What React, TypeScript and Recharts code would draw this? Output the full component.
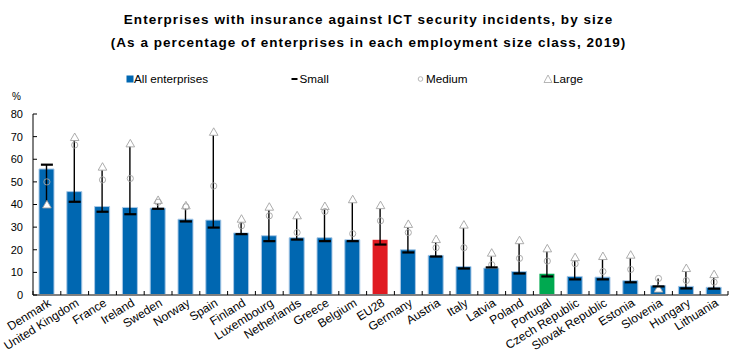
import React from 'react';
import { ComposedChart, Bar, Cell, Scatter, ErrorBar, XAxis, YAxis, Legend } from 'recharts';

const COUNTRIES = [
  'Denmark', 'United Kingdom', 'France', 'Ireland', 'Sweden', 'Norway', 'Spain', 'Finland',
  'Luxembourg', 'Netherlands', 'Greece', 'Belgium', 'EU28', 'Germany', 'Austria', 'Italy',
  'Latvia', 'Poland', 'Portugal', 'Czech Republic', 'Slovak Republic', 'Estonia', 'Slovenia',
  'Hungary', 'Lithuania',
];

const ALL_ENTERPRISES = [55.7, 45.7, 39.1, 38.7, 38.4, 33.5, 33.1, 27.4, 26.2, 25.3, 25.3, 24.4, 24.4, 20.0, 17.5, 12.6, 11.9, 10.4, 9.4, 8.2, 7.9, 6.3, 4.1, 3.8, 3.4];
const SMALL = [57.6, 41.2, 36.8, 35.7, 38.1, 32.5, 29.8, 26.9, 23.8, 24.5, 23.8, 23.8, 22.3, 18.8, 17.0, 11.7, 12.2, 9.5, 8.2, 6.9, 6.9, 5.6, 3.8, 2.9, 2.8];
const MEDIUM = [50.0, 66.3, 50.9, 51.5, 41.0, 39.0, 48.2, 30.6, 35.0, 27.6, 36.9, 27.1, 32.8, 27.6, 20.9, 20.9, 13.4, 16.2, 15.0, 13.8, 10.4, 11.3, 7.3, 6.4, 5.7];
const LARGE = [39.8, 69.6, 56.5, 66.8, 41.8, 39.4, 71.9, 33.5, 38.8, 35.0, 39.1, 42.1, 39.5, 31.2, 24.5, 30.9, 18.5, 24.0, 20.4, 16.5, 17.0, 17.6, 2.6, 11.7, 9.0];

const Y_TICKS = [0, 10, 20, 30, 40, 50, 60, 70, 80];

const BLUE = '#0067b1';
const HIGHLIGHT: Record<string, string> = { EU28: '#e01b22', Portugal: '#00a950' };
const MARKER_GREY = '#a3a3a3';
const FONT = '"Liberation Sans", Arial, sans-serif';

const data = COUNTRIES.map((name, i) => {
  const lo = Math.min(SMALL[i], MEDIUM[i], LARGE[i]);
  const hi = Math.max(SMALL[i], MEDIUM[i], LARGE[i]);
  return {
    name,
    all: ALL_ENTERPRISES[i],
    small: SMALL[i],
    medium: MEDIUM[i],
    large: LARGE[i],
    // asymmetric whisker around the bar value, spanning the size classes
    range: [ALL_ENTERPRISES[i] - lo, hi - ALL_ENTERPRISES[i]],
  };
});

function CountryTick(props: any) {
  const { x, y, payload, index, visibleTicksCount, width } = props;
  const band = width / visibleTicksCount;
  const left = x - band / 2;
  const ax = x + 5;
  const ay = y + 10;
  return (
    <g>
      <line x1={left} x2={left} y1={y - 4} y2={y} stroke="#000" />
      {index === visibleTicksCount - 1 && (
        <line x1={left + band} x2={left + band} y1={y - 4} y2={y} stroke="#000" />
      )}
      <text
        x={ax}
        y={ay}
        transform={`rotate(-32, ${ax}, ${ay})`}
        textAnchor="end"
        fontSize={12}
        fontFamily={FONT}
        fill="#000"
      >
        {payload.value}
      </text>
    </g>
  );
}

const triangle = (props: any) => {
  const { cx, cy } = props;
  return (
    <path
      d={`M${cx},${cy - 4.5}L${cx + 4.3},${cy + 3}L${cx - 4.3},${cy + 3}Z`}
      fill="#fff"
      stroke={MARKER_GREY}
      strokeWidth={0.9}
    />
  );
};

const circle = (props: any) => (
  <circle cx={props.cx} cy={props.cy} r={3.1} fill="none" stroke={MARKER_GREY} strokeWidth={0.9} />
);

const dash = (props: any) => (
  <rect x={props.cx - 6} y={props.cy - 1.1} width={12} height={2.2} fill="#000" />
);

function LegendContent() {
  const text = { fontSize: 11.7, fontFamily: FONT, color: '#000', position: 'absolute' as const, top: -7, whiteSpace: 'nowrap' as const };
  return (
    <div style={{ position: 'relative', width: 737, height: 14 }}>
      <svg width={737} height={14} style={{ position: 'absolute', left: 0, top: -7 }}>
        <rect x={126.5} y={3.5} width={7} height={7} fill={BLUE} />
        <rect x={291.5} y={6} width={6} height={2} fill="#000" />
        <circle cx={420.5} cy={7} r={2.3} fill="none" stroke={MARKER_GREY} strokeWidth={0.8} />
        <path d="M548,3L552,10.5L544,10.5Z" fill="#fff" stroke={MARKER_GREY} strokeWidth={0.8} />
      </svg>
      <span style={{ ...text, left: 134 }}>All enterprises</span>
      <span style={{ ...text, left: 299.5 }}>Small</span>
      <span style={{ ...text, left: 426 }}>Medium</span>
      <span style={{ ...text, left: 553 }}>Large</span>
    </div>
  );
}

const titleStyle = {
  position: 'absolute' as const,
  width: 737,
  textAlign: 'center' as const,
  fontWeight: 'bold' as const,
  fontSize: 13.5,
  letterSpacing: 1.05,
  color: '#000',
  whiteSpace: 'nowrap' as const,
};

export default function App() {
  return (
    <div style={{ position: 'absolute', left: 0, top: 0, width: 737, height: 364, background: '#fff', fontFamily: FONT }}>
      <div style={{ ...titleStyle, top: 11.5 }}>
        Enterprises with insurance against ICT security incidents, by size
      </div>
      <div style={{ ...titleStyle, top: 35 }}>
        (As a percentage of enterprises in each employment size class, 2019)
      </div>
      <div style={{ position: 'absolute', top: 91, left: 12, fontSize: 10, color: '#000' }}>%</div>
      <ComposedChart
        width={737}
        height={364}
        data={data}
        margin={{ top: 114, right: 9, bottom: 9, left: 0 }}
      >
        <XAxis
          dataKey="name"
          interval={0}
          height={60}
          tickSize={0}
          tickMargin={0}
          tickLine={false}
          axisLine={{ stroke: '#808080', strokeWidth: 2 }}
          tick={<CountryTick />}
        />
        <YAxis
          domain={[0, 80]}
          ticks={Y_TICKS}
          interval={0}
          width={33}
          tickSize={-4}
          tickMargin={14}
          axisLine={{ stroke: '#000' }}
          tickLine={{ stroke: '#000' }}
          tick={{ fontSize: 11, fill: '#000', fontFamily: FONT }}
        />
        <Legend
          layout="horizontal"
          verticalAlign="middle"
          align="center"
          wrapperStyle={{ top: 79, left: 0, width: 737 }}
          content={<LegendContent />}
        />
        <Bar dataKey="all" barSize={15} isAnimationActive={false}>
          {data.map((d) => (
            <Cell
              key={d.name}
              fill={HIGHLIGHT[d.name] || BLUE}
              stroke={HIGHLIGHT[d.name] ? 'none' : '#a9c8e6'}
              strokeWidth={1}
            />
          ))}
          <ErrorBar dataKey="range" direction="y" width={0} stroke="#000" strokeWidth={1.4} />
        </Bar>
        <Scatter dataKey="large" shape={triangle} isAnimationActive={false} />
        <Scatter dataKey="medium" shape={circle} isAnimationActive={false} />
        <Scatter dataKey="small" shape={dash} isAnimationActive={false} />
      </ComposedChart>
    </div>
  );
}
